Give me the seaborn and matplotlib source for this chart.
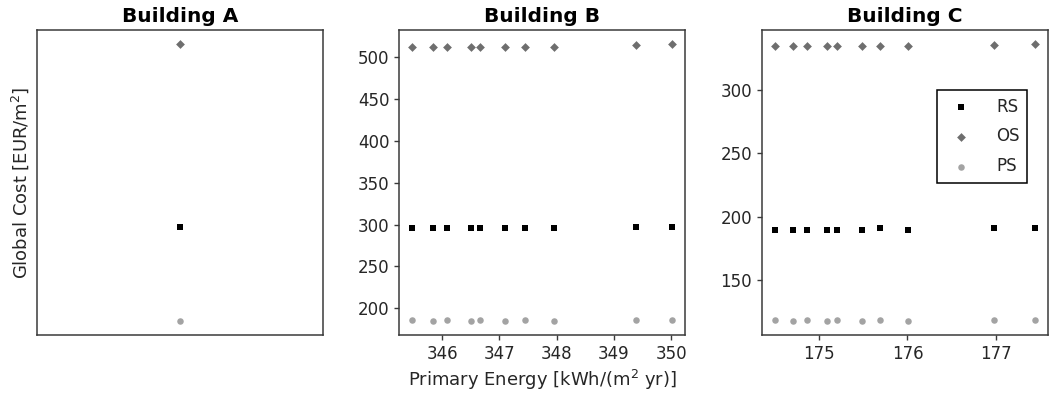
import numpy as np
import pandas as pd
import matplotlib
matplotlib.use("Agg")
import matplotlib.pyplot as plt
import seaborn as sns

# ---- data ----
buildings = ["Building A", "Building B", "Building C"]
series = ["RS", "OS", "PS"]

a_pe = [0.0]
a_rs = [296.0]
a_os = [515.0]
a_ps = [184.0]

b_pe = [345.48, 345.85, 346.09, 346.51, 346.67, 347.10, 347.45, 347.95, 349.39, 350.02]
b_rs = [295.5, 295.5, 295.5, 295.5, 295.5, 295.5, 295.5, 295.5, 297.0, 297.0]
b_os = [513.0, 513.0, 513.0, 513.0, 513.0, 513.0, 513.0, 513.0, 514.5, 516.0]
b_ps = [186.0, 184.5, 186.0, 184.5, 186.0, 184.5, 186.0, 184.5, 186.0, 186.0]

c_pe = [174.50, 174.71, 174.86, 175.09, 175.20, 175.49, 175.69, 176.01, 176.98, 177.44]
c_rs = [189.9, 189.9, 189.9, 189.9, 189.9, 189.9, 190.9, 189.9, 190.9, 190.9]
c_os = [334.6, 334.6, 334.6, 334.6, 334.6, 334.6, 334.6, 334.6, 335.4, 336.4]
c_ps = [118.5, 117.5, 118.5, 117.5, 118.5, 117.5, 118.5, 117.5, 118.5, 118.5]

data = {
    "Building A": (a_pe, {"RS": a_rs, "OS": a_os, "PS": a_ps}),
    "Building B": (b_pe, {"RS": b_rs, "OS": b_os, "PS": b_ps}),
    "Building C": (c_pe, {"RS": c_rs, "OS": c_os, "PS": c_ps}),
}

styles = {
    "RS": dict(marker="s", color="black", s=22),
    "OS": dict(marker="D", color="#6e6e6e", s=20),
    "PS": dict(marker="o", color="#a3a3a3", s=22),
}

sns.set_style("ticks")
plt.rcParams["font.family"] = ["DejaVu Sans"]

fig, axes = plt.subplots(1, 3, figsize=(10.49, 3.97), dpi=100)
fig.subplots_adjust(left=0.035, right=0.999, top=0.924, bottom=0.156, wspace=0.266)

for ax, name in zip(axes, buildings):
    pe, vals = data[name]
    for s in series:
        df = pd.DataFrame({"pe": pe, "cost": vals[s]})
        st = styles[s]
        sns.scatterplot(data=df, x="pe", y="cost", ax=ax, marker=st["marker"],
                        color=st["color"], s=st["s"], linewidth=0, label=s)
    ax.set_title(name, fontsize=14.5, fontweight="bold", color="black")
    ax.set_xlabel("")
    ax.set_ylabel("")
    for sp in ax.spines.values():
        sp.set_visible(True)
        sp.set_linewidth(1.1)
        sp.set_color("#3a3a3a")
    ax.tick_params(labelsize=12, length=3.5, width=1, colors="#3a3a3a", labelcolor="#262626")
    if ax.get_legend() is not None:
        ax.get_legend().remove()

axes[0].set_xticks([])
axes[0].set_yticks([])
axes[0].set_ylabel("Global Cost [EUR/m$^2$]", fontsize=13, color="#262626")
axes[1].set_xlabel("Primary Energy [kWh/(m$^2$ yr)]", fontsize=13, color="#262626")
axes[1].set_yticks([200, 250, 300, 350, 400, 450, 500])
axes[1].set_xticks([346, 347, 348, 349, 350])
axes[2].set_yticks([150, 200, 250, 300])
axes[2].set_xticks([175, 176, 177])

handles, labels = axes[2].get_legend_handles_labels()
leg = axes[2].legend(handles, labels, loc="upper right", bbox_to_anchor=(0.927, 0.803),
                     borderaxespad=0, fancybox=False, framealpha=1, edgecolor="black",
                     fontsize=12, labelspacing=0.7, handletextpad=1.1, borderpad=0.45,
                     handlelength=2.0)
leg.get_frame().set_linewidth(1.1)

fig.savefig("out.png", dpi=100)
